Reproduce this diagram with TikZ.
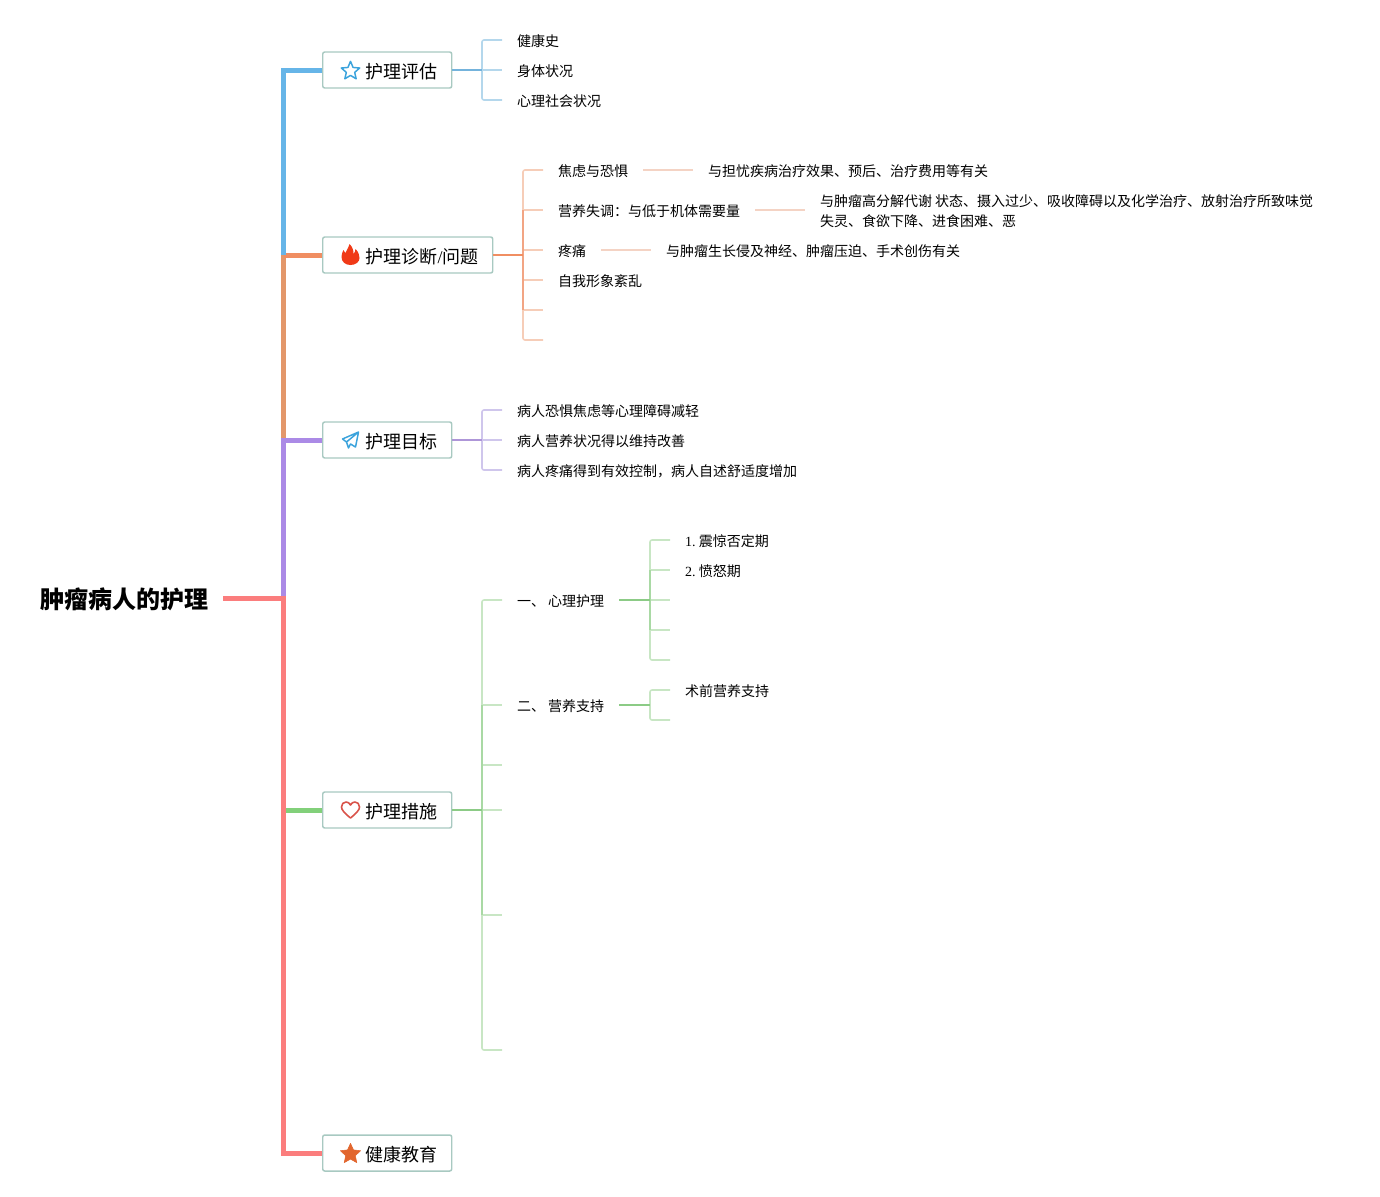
\documentclass[tikz,border=0pt]{standalone}
\usepackage{fontspec}
\setmainfont{Liberation Serif}
\newfontfamily\cjk{Noto Sans CJK SC}
\usetikzlibrary{shapes.geometric}
\definecolor{cblue}{HTML}{66B5E8}\definecolor{cblueM}{HTML}{74B3DC}\definecolor{cblueL}{HTML}{B4D7EC}
\definecolor{corange}{HTML}{F08E62}\definecolor{corangeV}{HTML}{E3976A}\definecolor{corangeM}{HTML}{F2A584}\definecolor{corangeL}{HTML}{F6CDB8}\definecolor{cpeach}{HTML}{F4D3C4}
\definecolor{cpurple}{HTML}{AB8AE6}\definecolor{cpurpleM}{HTML}{AE96D8}\definecolor{cpurpleL}{HTML}{CFC6EC}
\definecolor{cred}{HTML}{FB7D7D}
\definecolor{cgreen}{HTML}{82D07A}\definecolor{cgreenM}{HTML}{8CCB86}\definecolor{cgreenN}{HTML}{A9D9A4}\definecolor{cgreenL}{HTML}{C8E6C4}
\definecolor{cbox}{HTML}{A8C9C1}\definecolor{ciconb}{HTML}{3BA3DC}
\definecolor{cflame}{HTML}{F03A17}\definecolor{cheart}{HTML}{D9534A}\definecolor{cstar}{HTML}{E2662E}
\tikzset{
 x=0.75pt,y=-0.75pt,
 trunk/.style={line width=3.75pt,line join=miter},
 link/.style={line width=1.5pt},
 twig/.style={line width=1.2pt,rounded corners=1.5pt},
 boxn/.style={draw=cbox,line width=1.1pt,rounded corners=1.5pt,fill=white,anchor=west,inner xsep=0pt,inner ysep=0pt,minimum height=27pt,font=\cjk\fontsize{13.5pt}{16pt}\selectfont,text height=14pt,text depth=2pt},
 leaf/.style={anchor=west,inner xsep=0pt,inner ysep=0pt,outer xsep=11.25pt,outer ysep=0pt,font=\cjk\fontsize{10.5pt}{15pt}\selectfont,text height=11pt,text depth=1.5pt},
 leafm/.style={anchor=west,inner xsep=0pt,inner ysep=0pt,outer xsep=11.25pt,outer ysep=0pt,font=\cjk\fontsize{10.5pt}{15pt}\selectfont,align=left},
 rootn/.style={anchor=east,inner xsep=0pt,inner ysep=0pt,outer xsep=11.25pt,font=\cjk\bfseries\fontsize{18pt}{20pt}\selectfont,text height=18pt,text depth=2pt},
 iconline/.style={draw=ciconb,line width=1.1pt,line join=round,fill=none},
}
\newcommand{\boxpad}{\hspace*{32.25pt}}
\newcommand{\numtxt}[1]{{\fontspec{Liberation Serif}#1}}
\begin{document}
\begin{tikzpicture}
\useasboundingbox (0,0) rectangle (1380,1196);
% root and boxes
\node[rootn] (root) at (223,598) {肿瘤病人的护理};
\node[boxn] (b1) at (322,70) {\boxpad 护理评估\hspace*{10.5pt}};
\node[boxn] (b2) at (322,255) {\boxpad 护理诊断\numtxt{/}问题\hspace*{10.5pt}};
\node[boxn] (b3) at (322,440) {\boxpad 护理目标\hspace*{10.5pt}};
\node[boxn] (b4) at (322,810) {\boxpad 护理措施\hspace*{10.5pt}};
\node[boxn] (b5) at (322,1153) {\boxpad 健康教育\hspace*{10.5pt}};
% trunk junctions
\coordinate (t2) at (283.5,255);
\coordinate (t3) at (283.5,440);
\coordinate (t4) at (283.5,810);
\coordinate (t0) at (283.5,598);
% trunk
\draw[trunk,cgreen] (b4.west) -- (t4);
\draw[trunk,corangeV] (t2) -- (t3);
\draw[trunk,corange] (b2.west) -- (t2);
\draw[trunk,cblue] (b1.west) -| (t2);
\draw[trunk,cpurple] (b3.west) -| (t0);
\draw[trunk,cred] (root.east) -- (t0) |- (b5.west);
% assessment
\node[leaf] (a1) at (502,40) {健康史};
\node[leaf] (a2) at (502,70) {身体状况};
\node[leaf] (a3) at (502,100) {心理社会状况};
\coordinate (ja) at (482,70);
\draw[twig,cblueL] (a1.west) -| (ja) |- (a3.west);
\draw[twig,cblueL] (ja) -- (a2.west);
\draw[link,cblueM] (b1.east) -- (ja);
% diagnosis
\node[leaf] (d1) at (543,170) {焦虑与恐惧};
\node[leaf] (d2) at (543,210) {营养失调：与低于机体需要量};
\node[leaf] (d3) at (543,250) {疼痛};
\node[leaf] (d4) at (543,280) {自我形象紊乱};
\coordinate (d5) at (543,310);
\coordinate (d6) at (543,340);
\coordinate (jd) at (523,255);
\coordinate (jd2) at (523,210);
\coordinate (jd3) at (523,250);
\coordinate (jd4) at (523,280);
\coordinate (jd5) at (523,310);
\draw[twig,corangeL] (d1.west) -| (jd2);
\draw[twig,corangeL] (d6) -| (jd5);
\draw[twig,corangeL] (jd2) -- (d2.west);
\draw[twig,corangeL] (jd3) -- (d3.west);
\draw[twig,corangeL] (jd4) -- (d4.west);
\draw[twig,corangeL] (jd5) -- (d5);
\draw[twig,corangeM] (jd2) -- (jd5);
\draw[link,corange] (b2.east) -- (jd);
\node[leaf] (e1) at (693,170) {与担忧疾病治疗效果、预后、治疗费用等有关};
\node[leafm] (e2) at (805,211) {与肿瘤高分解代谢 状态、摄入过少、吸收障碍以及化学治疗、放射治疗所致味觉\\失灵、食欲下降、进食困难、恶};
\coordinate (e2in) at (805,210);
\node[leaf] (e3) at (651,250) {与肿瘤生长侵及神经、肿瘤压迫、手术创伤有关};
\draw[link,cpeach] (d1.east) -- (e1.west);
\draw[link,cpeach] (d2.east) -- (e2in);
\draw[link,cpeach] (d3.east) -- (e3.west);
% goals
\node[leaf] (g1) at (502,410) {病人恐惧焦虑等心理障碍减轻};
\node[leaf] (g2) at (502,440) {病人营养状况得以维持改善};
\node[leaf] (g3) at (502,470) {病人疼痛得到有效控制，病人自述舒适度增加};
\coordinate (jg) at (482,440);
\draw[twig,cpurpleL] (g1.west) -| (jg) |- (g3.west);
\draw[twig,cpurpleL] (jg) -- (g2.west);
\draw[link,cpurpleM] (b3.east) -- (jg);
% measures
\node[leaf] (m1) at (502,600) {一、 心理护理};
\node[leaf] (m2) at (502,705) {二、 营养支持};
\coordinate (m3) at (502,765);
\coordinate (m4) at (502,810);
\coordinate (m5) at (502,915);
\coordinate (m6) at (502,1050);
\coordinate (jm) at (482,810);
\coordinate (jm2) at (482,705);
\coordinate (jm3) at (482,765);
\coordinate (jm5) at (482,915);
\draw[twig,cgreenL] (m1.west) -| (jm2);
\draw[twig,cgreenL] (m6) -| (jm5);
\draw[twig,cgreenL] (jm2) -- (m2.west);
\draw[twig,cgreenL] (jm3) -- (m3);
\draw[twig,cgreenL] (jm) -- (m4);
\draw[twig,cgreenL] (jm5) -- (m5);
\draw[twig,cgreenN] (jm2) -- (jm5);
\draw[link,cgreenM] (b4.east) -- (jm);
% psychological care
\node[leaf] (p1) at (670,540) {\numtxt{1.}\hspace{2.5pt}震惊否定期};
\node[leaf] (p2) at (670,570) {\numtxt{2.}\hspace{2.5pt}愤怒期};
\coordinate (p3) at (670,600);
\coordinate (p4) at (670,630);
\coordinate (p5) at (670,660);
\coordinate (jp) at (650,600);
\coordinate (jp2) at (650,570);
\coordinate (jp4) at (650,630);
\draw[twig,cgreenL] (p1.west) -| (jp2);
\draw[twig,cgreenL] (p5) -| (jp4);
\draw[twig,cgreenL] (jp2) -- (p2.west);
\draw[twig,cgreenL] (jp) -- (p3);
\draw[twig,cgreenL] (jp4) -- (p4);
\draw[twig,cgreenN] (jp2) -- (jp4);
\draw[link,cgreenM] (m1.east) -- (jp);
% nutrition
\node[leaf] (n1) at (670,690) {术前营养支持};
\coordinate (n2) at (670,720);
\coordinate (jn) at (650,705);
\draw[twig,cgreenL] (n1.west) -| (jn) |- (n2);
\draw[link,cgreenM] (m2.east) -- (jn);
% icons
\node[star,star points=5,star point ratio=2.2,minimum size=14.5pt,inner sep=0pt,iconline] (i1) at (350.5,71) {};
\begin{scope}[shift={(350.5,255)}]
\fill[fill=cflame] (0,10) .. controls (-5,10) and (-9,7) .. (-9,2) .. controls (-9,-1) and (-8,-3) .. (-7,-5) .. controls (-6,-3) and (-5.5,-2.5) .. (-5,-2) .. controls (-4,-5) and (-2,-7) .. (-1,-11) .. controls (2,-8) and (3,-5) .. (3,-1) .. controls (4,-2) and (5,-4) .. (5,-6) .. controls (8,-3) and (9,0) .. (9,3) .. controls (9,7) and (5,10) .. (0,10) -- cycle;
\end{scope}
\begin{scope}[shift={(350.5,440)}]
\draw[iconline] (8,-8) -- (-8,-1) -- (-4,2) -- (-2,8) -- (0,4) -- (5,7) -- cycle (8,-8) -- (-4,2);
\end{scope}
\begin{scope}[shift={(350.5,810)}]
\draw[draw=cheart,line width=1.2pt,line join=round] (0,8) .. controls (-6,3) and (-9,0) .. (-9,-3) .. controls (-9,-6) and (-7,-8) .. (-4.5,-8) .. controls (-2.5,-8) and (-1,-7) .. (0,-5) .. controls (1,-7) and (2.5,-8) .. (4.5,-8) .. controls (7,-8) and (9,-6) .. (9,-3) .. controls (9,0) and (6,3) .. (0,8) -- cycle;
\end{scope}
\node[star,star points=5,star point ratio=2.1,minimum size=16pt,inner sep=0pt,fill=cstar,draw=cstar,line width=0.4pt,line join=round] (i5) at (350.5,1154) {};
\end{tikzpicture}
\end{document}
